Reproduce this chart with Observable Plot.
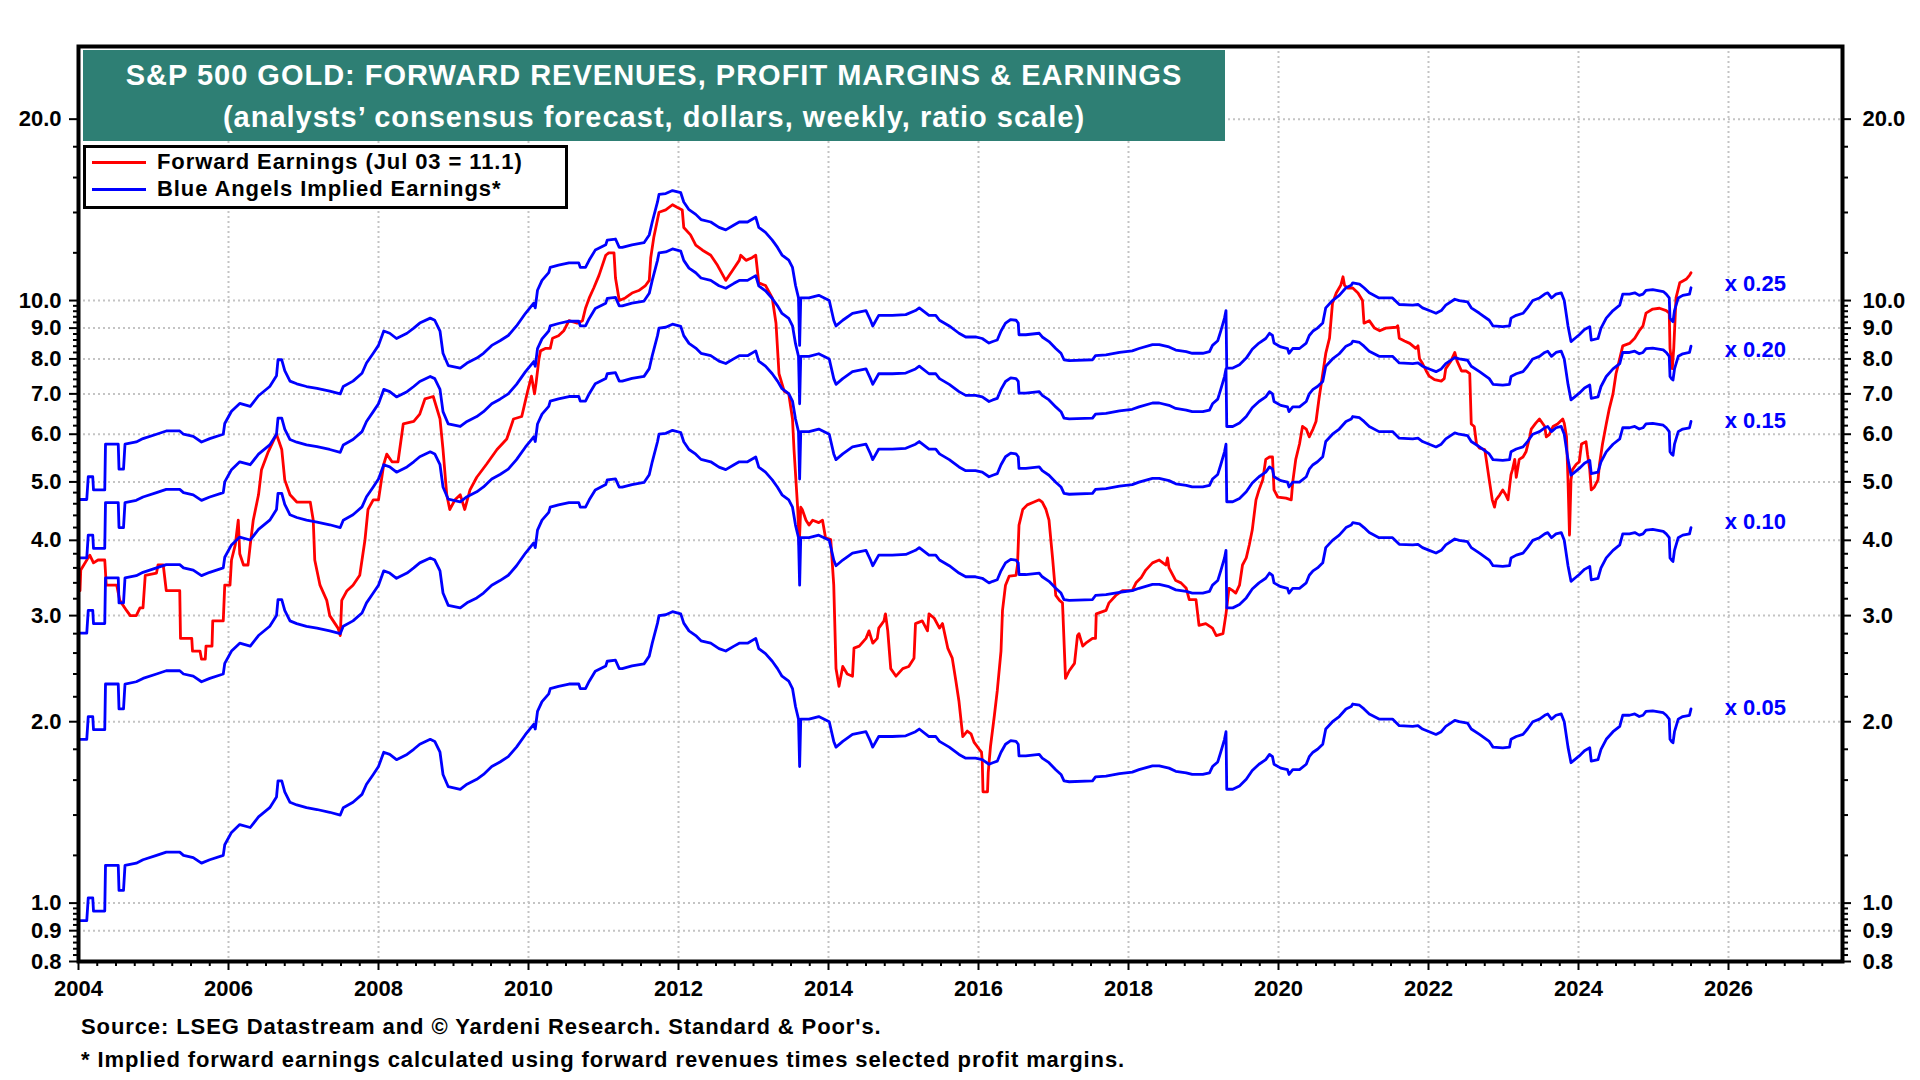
<!DOCTYPE html>
<html>
<head>
<meta charset="utf-8">
<script src="https://cdn.jsdelivr.net/npm/d3@7"></script>
<script src="https://cdn.jsdelivr.net/npm/@observablehq/plot@0.6"></script>
<style>
html,body{margin:0;padding:0;background:#fff;}
#wrap{position:relative;width:1920px;height:1080px;overflow:hidden;font-family:"Liberation Sans",Arial,sans-serif;font-weight:bold;color:#000;}
#wrap svg{position:absolute;left:0;top:0;}
.title{position:absolute;left:83px;top:50px;width:1142px;height:91px;background:#2E7F74;color:#fff;}
.tl{position:absolute;left:0;width:100%;text-align:center;font-size:29px;line-height:29px;letter-spacing:1px;white-space:nowrap;}
.legend{position:absolute;left:83px;top:145px;width:485px;height:64px;box-sizing:border-box;border:3px solid #000;background:#fff;}
.lgline{position:absolute;left:6px;width:54px;height:3px;}
.lgtext{position:absolute;left:71px;font-size:22px;line-height:22px;letter-spacing:0.9px;white-space:nowrap;}
.foot{position:absolute;left:81px;font-size:22px;line-height:22px;letter-spacing:0.9px;white-space:nowrap;}
</style>
</head>
<body>
<div id="wrap"></div>
<script>
// ---- Data ----
// Forward revenues per share (dollars), weekly, sampled
const revenueYears = [2004.02,2004.11,2004.13,2004.19,2004.20,2004.35,2004.36,2004.53,2004.54,2004.60,2004.62,2004.77,2004.86,2005.04,2005.17,2005.35,2005.40,2005.53,2005.64,2005.75,2005.93,2005.95,2006.04,2006.15,2006.29,2006.40,2006.55,2006.64,2006.66,2006.71,2006.75,2006.82,2006.91,2007.04,2007.18,2007.35,2007.49,2007.53,2007.66,2007.78,2007.84,2007.93,2008.00,2008.07,2008.15,2008.24,2008.38,2008.47,2008.55,2008.69,2008.75,2008.82,2008.86,2008.93,2009.09,2009.18,2009.31,2009.40,2009.51,2009.62,2009.73,2009.84,2009.96,2010.07,2010.09,2010.12,2010.18,2010.27,2010.29,2010.40,2010.54,2010.67,2010.69,2010.76,2010.81,2010.89,2011.03,2011.05,2011.16,2011.21,2011.25,2011.38,2011.54,2011.61,2011.65,2011.72,2011.74,2011.83,2011.92,2012.03,2012.07,2012.14,2012.23,2012.30,2012.43,2012.54,2012.63,2012.74,2012.81,2012.92,2013.03,2013.07,2013.16,2013.25,2013.32,2013.38,2013.47,2013.52,2013.56,2013.60,2013.615,2013.63,2013.74,2013.87,2014.01,2014.07,2014.10,2014.19,2014.32,2014.50,2014.56,2014.59,2014.67,2014.85,2015.03,2015.16,2015.21,2015.34,2015.43,2015.48,2015.61,2015.74,2015.83,2015.96,2016.05,2016.14,2016.19,2016.25,2016.30,2016.36,2016.43,2016.50,2016.53,2016.54,2016.63,2016.81,2016.85,2016.94,2017.03,2017.10,2017.14,2017.21,2017.52,2017.56,2017.70,2017.88,2018.05,2018.14,2018.32,2018.41,2018.54,2018.63,2018.77,2018.85,2018.99,2019.08,2019.12,2019.19,2019.23,2019.28,2019.30,2019.31,2019.39,2019.48,2019.57,2019.65,2019.74,2019.83,2019.88,2019.92,2019.94,2020.03,2020.12,2020.14,2020.19,2020.28,2020.37,2020.41,2020.46,2020.52,2020.59,2020.63,2020.72,2020.81,2020.90,2020.97,2020.99,2021.08,2021.14,2021.21,2021.34,2021.52,2021.61,2021.79,2021.86,2021.92,2022.01,2022.10,2022.17,2022.23,2022.35,2022.41,2022.52,2022.57,2022.68,2022.81,2022.86,2022.99,2023.08,2023.10,2023.17,2023.26,2023.32,2023.39,2023.48,2023.55,2023.59,2023.64,2023.70,2023.77,2023.81,2023.86,2023.90,2023.95,2024.01,2024.08,2024.15,2024.17,2024.26,2024.30,2024.37,2024.46,2024.55,2024.59,2024.68,2024.75,2024.81,2024.86,2024.90,2024.99,2025.13,2025.17,2025.21,2025.22,2025.24,2025.26,2025.28,2025.33,2025.39,2025.48,2025.50];
const revenueValues = [18.7,18.7,20.4,20.4,19.4,19.4,23.1,23.1,21.0,21.0,23.1,23.3,23.6,24.0,24.3,24.3,24.0,23.8,23.3,23.6,24.0,25.0,26.2,27.0,26.7,27.8,28.8,30.0,31.9,31.9,30.6,29.4,29.1,28.8,28.6,28.3,28.0,28.8,29.4,30.3,31.5,32.7,33.7,35.6,35.3,34.6,35.3,36.0,36.7,37.4,37.1,35.6,32.7,31.2,30.9,31.5,32.1,32.7,33.7,34.3,35.0,36.3,38.1,39.6,38.9,41.6,43.2,44.5,45.4,45.8,46.2,46.2,45.4,45.4,46.7,48.5,49.5,50.4,50.6,49.0,49.0,49.5,49.9,51.4,54.0,58.3,60.0,60.2,60.9,60.4,58.3,56.6,55.6,54.5,54.0,52.9,52.4,53.4,54.0,54.0,55.0,52.9,51.9,50.4,49.0,47.6,46.7,45.4,42.4,40.4,33.7,40.4,40.4,40.8,40.0,37.1,36.3,37.1,38.1,38.5,37.1,36.3,37.8,37.8,37.9,38.5,38.9,37.8,37.8,37.1,36.3,35.3,34.8,34.8,34.6,34.0,34.2,34.4,35.6,36.7,37.2,37.1,36.7,35.1,35.1,35.3,34.8,34.2,33.3,32.7,31.9,31.8,31.9,32.4,32.5,32.8,33.0,33.3,33.8,33.8,33.5,33.1,32.9,32.7,32.7,32.9,33.7,34.3,35.6,37.4,38.5,30.9,30.9,31.3,32.1,33.2,34.0,34.6,35.3,35.0,34.0,33.5,33.3,32.7,33.3,33.3,34.0,35.0,35.6,36.0,36.7,38.9,40.0,40.8,42.0,42.4,42.8,42.6,42.0,41.2,40.4,40.4,39.4,39.3,39.4,38.9,38.5,38.1,38.5,39.3,40.2,40.0,39.8,38.9,38.1,37.1,36.3,36.2,36.3,37.4,37.8,38.1,38.9,40.0,40.4,41.0,41.2,40.4,41.0,41.2,40.0,36.3,34.2,34.6,35.1,35.8,36.2,34.4,34.6,36.0,37.4,38.5,39.3,41.0,41.0,41.2,40.8,41.0,41.6,41.7,41.4,41.0,40.4,37.4,37.1,36.9,38.5,40.4,40.8,41.0,42.0];

// Selected profit margins for the implied-earnings lines
const margins = [0.05, 0.10, 0.15, 0.20, 0.25];
const marginLabels = ["x 0.05", "x 0.10", "x 0.15", "x 0.20", "x 0.25"];

// Forward earnings per share (dollars), weekly, sampled
const earningsYears = [2004.02,2004.03,2004.15,2004.20,2004.26,2004.35,2004.37,2004.51,2004.55,2004.64,2004.69,2004.77,2004.82,2004.86,2004.89,2005.04,2005.06,2005.13,2005.17,2005.35,2005.36,2005.51,2005.52,2005.62,2005.64,2005.69,2005.70,2005.78,2005.79,2005.93,2005.95,2006.02,2006.04,2006.09,2006.13,2006.15,2006.20,2006.26,2006.29,2006.33,2006.40,2006.44,2006.53,2006.64,2006.71,2006.75,2006.82,2006.91,2007.09,2007.13,2007.15,2007.22,2007.31,2007.35,2007.46,2007.49,2007.51,2007.58,2007.66,2007.75,2007.82,2007.86,2007.93,2008.00,2008.07,2008.11,2008.18,2008.26,2008.33,2008.47,2008.55,2008.62,2008.73,2008.82,2008.86,2008.91,2008.95,2009.02,2009.09,2009.15,2009.22,2009.31,2009.44,2009.58,2009.71,2009.80,2009.91,2009.98,2010.04,2010.08,2010.10,2010.14,2010.16,2010.23,2010.29,2010.32,2010.40,2010.47,2010.54,2010.65,2010.72,2010.76,2010.81,2010.87,2010.94,2011.03,2011.07,2011.14,2011.16,2011.21,2011.29,2011.38,2011.47,2011.56,2011.61,2011.63,2011.67,2011.74,2011.83,2011.92,2011.98,2012.05,2012.07,2012.16,2012.23,2012.32,2012.43,2012.52,2012.63,2012.72,2012.81,2012.83,2012.90,2012.98,2013.03,2013.07,2013.16,2013.25,2013.30,2013.34,2013.41,2013.47,2013.52,2013.54,2013.59,2013.61,2013.63,2013.65,2013.70,2013.74,2013.79,2013.87,2013.92,2013.96,2014.03,2014.07,2014.10,2014.14,2014.19,2014.25,2014.32,2014.34,2014.41,2014.50,2014.54,2014.59,2014.65,2014.67,2014.74,2014.76,2014.79,2014.83,2014.90,2014.99,2015.07,2015.14,2015.16,2015.25,2015.32,2015.34,2015.41,2015.48,2015.52,2015.59,2015.65,2015.70,2015.74,2015.79,2015.85,2015.90,2015.94,2016.01,2016.04,2016.05,2016.06,2016.12,2016.13,2016.16,2016.21,2016.25,2016.30,2016.32,2016.36,2016.41,2016.50,2016.52,2016.54,2016.59,2016.65,2016.74,2016.81,2016.85,2016.90,2016.94,2016.99,2017.03,2017.08,2017.12,2017.16,2017.21,2017.28,2017.32,2017.34,2017.39,2017.43,2017.52,2017.56,2017.57,2017.70,2017.74,2017.83,2017.92,2018.05,2018.10,2018.17,2018.23,2018.32,2018.41,2018.50,2018.52,2018.54,2018.63,2018.70,2018.77,2018.81,2018.90,2018.94,2019.03,2019.12,2019.17,2019.26,2019.30,2019.34,2019.39,2019.43,2019.48,2019.52,2019.57,2019.61,2019.65,2019.70,2019.74,2019.79,2019.83,2019.88,2019.92,2019.94,2019.99,2020.10,2020.17,2020.19,2020.23,2020.28,2020.32,2020.37,2020.41,2020.46,2020.50,2020.54,2020.59,2020.63,2020.68,2020.72,2020.77,2020.83,2020.86,2020.88,2020.92,2020.99,2021.06,2021.12,2021.14,2021.21,2021.28,2021.35,2021.43,2021.57,2021.59,2021.61,2021.68,2021.75,2021.79,2021.83,2021.86,2021.88,2021.92,2021.97,2022.01,2022.08,2022.17,2022.21,2022.23,2022.30,2022.35,2022.38,2022.44,2022.50,2022.55,2022.57,2022.61,2022.64,2022.68,2022.75,2022.77,2022.81,2022.85,2022.88,2022.90,2022.95,2022.99,2023.03,2023.06,2023.10,2023.12,2023.15,2023.17,2023.21,2023.26,2023.30,2023.35,2023.37,2023.43,2023.48,2023.55,2023.57,2023.61,2023.66,2023.72,2023.79,2023.81,2023.84,2023.86,2023.88,2023.90,2023.92,2023.97,2024.01,2024.04,2024.10,2024.12,2024.15,2024.17,2024.21,2024.26,2024.28,2024.32,2024.37,2024.41,2024.46,2024.50,2024.55,2024.59,2024.68,2024.75,2024.81,2024.86,2024.90,2024.99,2025.08,2025.17,2025.21,2025.22,2025.25,2025.27,2025.30,2025.35,2025.44,2025.48,2025.50];
const earningsValues = [3.30,3.57,3.78,3.67,3.71,3.71,3.37,3.37,3.18,3.06,3.00,3.00,3.09,3.09,3.50,3.53,3.64,3.64,3.30,3.30,2.75,2.75,2.62,2.62,2.54,2.54,2.67,2.67,2.94,2.94,3.37,3.37,3.71,3.93,4.32,3.80,3.64,3.64,3.93,4.32,4.76,5.24,5.61,6.00,5.66,5.04,4.76,4.63,4.63,4.32,3.71,3.37,3.18,3.00,2.86,2.78,3.18,3.30,3.37,3.50,4.01,4.50,4.67,4.67,5.35,5.56,5.40,5.40,6.24,6.30,6.48,6.87,6.93,6.36,5.66,4.76,4.50,4.67,4.76,4.50,4.85,5.09,5.35,5.66,5.89,6.36,6.42,7.00,7.49,7.00,7.28,8.01,8.25,8.33,8.33,8.66,8.74,8.91,9.26,9.17,9.26,9.71,10.10,10.49,11.01,11.89,12.0,12.0,10.9,10.0,10.10,10.29,10.39,10.59,10.80,11.78,12.72,14.01,14.14,14.42,14.28,14.14,13.22,12.85,12.36,12.12,11.89,11.44,10.80,11.22,11.66,11.89,11.66,11.78,11.89,10.70,10.59,10.10,9.17,7.56,7.07,7.00,6.36,5.66,4.50,3.93,4.54,4.50,4.32,4.24,4.32,4.28,4.32,4.04,4.01,3.37,2.45,2.29,2.47,2.40,2.38,2.65,2.67,2.75,2.83,2.70,2.75,2.86,2.94,3.02,2.83,2.45,2.38,2.45,2.47,2.55,2.91,2.94,2.83,3.02,2.97,2.86,2.91,2.65,2.55,2.33,2.16,1.89,1.93,1.91,1.85,1.80,1.78,1.72,1.53,1.53,1.65,1.82,2.04,2.25,2.62,3.06,3.37,3.49,3.50,3.64,4.24,4.50,4.58,4.63,4.67,4.63,4.50,4.32,3.71,3.24,3.18,3.15,2.36,2.43,2.50,2.78,2.80,2.67,2.70,2.75,2.75,3.02,3.06,3.15,3.24,3.30,3.30,3.40,3.47,3.57,3.67,3.71,3.64,3.74,3.60,3.43,3.40,3.33,3.19,3.19,2.89,2.91,2.86,2.78,2.80,3.02,3.33,3.30,3.27,3.37,3.64,3.74,3.93,4.16,4.67,4.85,5.04,5.45,5.50,5.50,4.85,4.72,4.70,4.67,5.00,5.45,5.78,6.18,6.12,5.94,6.12,6.30,6.87,7.56,8.17,8.66,9.90,10.29,10.60,10.95,10.60,10.49,10.49,10.29,10.0,9.17,9.26,9.0,8.91,9.0,9.03,9.08,8.66,8.57,8.49,8.41,8.33,8.41,8.01,7.86,7.64,7.49,7.39,7.35,7.42,7.71,7.94,8.20,7.94,7.64,7.64,7.56,6.24,6.18,5.78,5.69,5.66,5.45,5.04,4.67,4.54,4.67,4.76,4.85,4.76,4.67,5.14,5.24,5.45,5.09,5.45,5.50,5.61,5.94,6.12,6.26,6.36,6.18,5.94,5.99,6.18,6.24,6.36,6.26,5.94,5.04,4.08,5.04,5.24,5.35,5.40,5.78,5.83,5.56,5.24,4.85,4.90,5.04,5.35,5.78,6.24,6.61,7.00,7.56,8.01,8.41,8.49,8.66,8.91,9.08,9.53,9.68,9.71,9.62,9.53,8.33,7.71,8.33,10.10,10.70,10.86,11.01,11.12];

// Axis ticks
const yTickValues = [0.8, 0.9, 1, 2, 3, 4, 5, 6, 7, 8, 9, 10, 20];
const xTickYears = [2004, 2006, 2008, 2010, 2012, 2014, 2016, 2018, 2020, 2022, 2024, 2026];
const xGridYears = [2006, 2008, 2010, 2012, 2014, 2016, 2018, 2020, 2022, 2024, 2026];

// ---- Build ----
const blueData = margins.flatMap(m => revenueYears.map((x, i) => ({x, y: revenueValues[i] * m, m})));
const redData = earningsYears.map((x, i) => ({x, y: earningsValues[i]}));

// four minor ticks between consecutive labelled values
const yMinor = [];
for (let i = 0; i < yTickValues.length - 1; i++) {
  const a = yTickValues[i], b = yTickValues[i + 1];
  for (let k = 1; k < 5; k++) yMinor.push(+(a + (b - a) * k / 5).toFixed(4));
}
const xMinor = d3.range(2004, 2027.5, 0.25).filter(v => Math.abs(v / 2 - Math.round(v / 2)) > 1e-6);

const lastRev = revenueValues[revenueValues.length - 1];
const labelDy = [-1, -6, 0, 4, -4];
const labelX = 2025.95;

const font = '"Liberation Sans", Arial, sans-serif';
const gridStyle = {stroke: "#c4c4c4", strokeOpacity: 1, strokeWidth: 2, strokeDasharray: "2,3"};
const axisCommon = {label: null, strokeWidth: 2, fontSize: 22, fontWeight: "bold", fontFamily: font};

const chart = Plot.plot({
  width: 1920,
  height: 1080,
  marginLeft: 78,
  marginRight: 78,
  marginTop: 46,
  marginBottom: 119,
  style: {fontFamily: font, fontSize: "22px", fontWeight: "bold", color: "#000", background: "transparent"},
  x: {type: "linear", domain: [2004, 2027.52]},
  y: {type: "log", domain: [0.8, 26.4]},
  marks: [
    Plot.gridY(yTickValues, gridStyle),
    Plot.gridX(xGridYears, gridStyle),
    Plot.line(redData, {x: "x", y: "y", stroke: "#ff0000", strokeWidth: 2.8}),
    Plot.line(blueData, {x: "x", y: "y", z: "m", stroke: "#0000ff", strokeWidth: 2.8}),
    ...margins.map((m, i) => Plot.text([{x: labelX, y: m * lastRev, t: marginLabels[i]}], {
      x: "x", y: "y", text: "t", dy: labelDy[i], textAnchor: "start",
      fill: "#0000ff", fontSize: 22, fontWeight: "bold", fontFamily: font
    })),
    Plot.axisY(yMinor, {...axisCommon, anchor: "left", tickSize: 5, tickFormat: () => ""}),
    Plot.axisY(yTickValues, {...axisCommon, anchor: "left", tickSize: 9, tickPadding: 8, tickFormat: d => d.toFixed(1)}),
    Plot.axisY(yMinor, {...axisCommon, anchor: "right", tickSize: 5, tickFormat: () => ""}),
    Plot.axisY(yTickValues, {...axisCommon, anchor: "right", tickSize: 8, tickPadding: 12, tickFormat: d => d.toFixed(1)}),
    Plot.axisX(xMinor, {...axisCommon, anchor: "bottom", tickSize: 5, tickFormat: () => ""}),
    Plot.axisX(xTickYears, {...axisCommon, anchor: "bottom", tickSize: 9, tickPadding: 10, tickFormat: d => String(d)}),
    Plot.frame({stroke: "#000", strokeWidth: 4})
  ]
});

const wrap = document.getElementById("wrap");
wrap.appendChild(chart);

function el(tag, cls, styles, text) {
  const e = document.createElement(tag);
  if (cls) e.className = cls;
  Object.assign(e.style, styles || {});
  if (text != null) e.textContent = text;
  return e;
}

const title = el("div", "title");
title.appendChild(el("div", "tl", {top: "10.5px"}, "S&P 500 GOLD: FORWARD REVENUES, PROFIT MARGINS & EARNINGS"));
title.appendChild(el("div", "tl", {top: "53px"}, "(analysts\u2019 consensus forecast, dollars, weekly, ratio scale)"));
wrap.appendChild(title);

const legend = el("div", "legend");
legend.appendChild(el("div", "lgline", {top: "12.5px", background: "#ff0000"}));
legend.appendChild(el("div", "lgline", {top: "39.5px", background: "#0000ff"}));
legend.appendChild(el("div", "lgtext", {top: "3.3px"}, "Forward Earnings (Jul 03 = 11.1)"));
legend.appendChild(el("div", "lgtext", {top: "30.3px"}, "Blue Angels Implied Earnings*"));
wrap.appendChild(legend);

wrap.appendChild(el("div", "foot", {top: "1016px"}, "Source: LSEG Datastream and \u00A9 Yardeni Research. Standard & Poor's."));
wrap.appendChild(el("div", "foot", {top: "1049px"}, "* Implied forward earnings calculated using forward revenues times selected profit margins."));
</script>
</body>
</html>
